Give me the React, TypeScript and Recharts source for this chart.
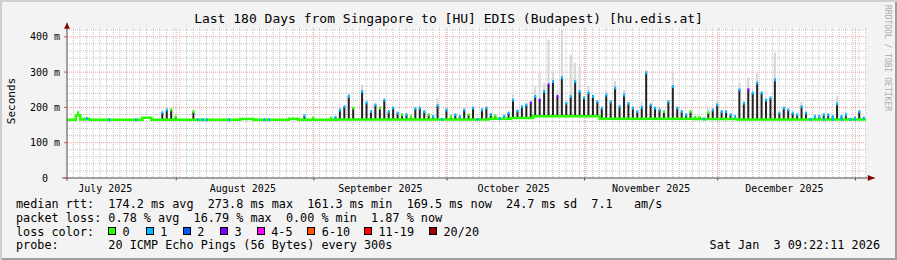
import React from 'react';
import { ComposedChart, Bar, Line, Scatter, XAxis, YAxis, CartesianGrid, ReferenceLine } from 'recharts';

const MONO = '"DejaVu Sans Mono", monospace';

// x = days since Mon Jul 7 2025 09:22 (180 day window)
const monthStarts = [24.61, 55.61, 85.61, 116.61, 146.61, 177.61];
const monthLabelDays = [8.61, 39.61, 70.61, 100.61, 131.61, 161.61];
const monthLabels = ['July 2025', 'August 2025', 'September 2025', 'October 2025', 'November 2025', 'December 2025'];
const yTicks = [0, 100, 200, 300, 400];

// median rtt in ms, as runs of [first day, value]
const medianRuns: [number, number][] = [
  [0, 165], [2, 178], [3, 166], [4, 168], [5, 165], [17, 171], [19, 165], [39, 167], [42, 165],
  [50, 168], [52, 165], [61, 166], [95, 168], [100, 170], [105, 175], [120, 168], [141, 167], [151, 166],
];

// dark smoke spikes: [day, top ms, loss class]
const spikes: [number, number, number][] = [
  [2, 185, 0], [21, 185, 1], [22, 193, 1], [23, 193, 0], [24, 173, 0], [28, 188, 0], [53, 176, 1], [55, 170, 0],
  [59, 170, 0], [60, 172, 1], [61, 193, 1], [62, 202, 1], [63, 231, 1], [64, 198, 0], [66, 245, 1], [67, 213, 1],
  [68, 188, 1], [69, 207, 1], [70, 198, 0], [71, 221, 1], [72, 188, 1], [73, 198, 1], [74, 184, 1], [75, 179, 0],
  [76, 179, 1], [77, 174, 0], [78, 196, 1], [79, 198, 1], [80, 188, 1], [81, 179, 0], [82, 174, 1], [83, 205, 1],
  [85, 193, 1], [86, 174, 0], [87, 179, 1], [88, 174, 1], [89, 193, 1], [90, 179, 0], [91, 198, 1], [93, 193, 1],
  [94, 198, 1], [95, 180, 1], [96, 176, 0], [98, 175, 1], [99, 184, 1], [100, 221, 1], [101, 190, 1], [102, 202, 1],
  [103, 207, 1], [104, 213, 3], [105, 231, 1], [106, 221, 3], [107, 245, 1], [108, 264, 3], [109, 273, 1], [110, 231, 3],
  [111, 284, 1], [112, 212, 1], [113, 231, 1], [114, 273, 1], [115, 245, 1], [116, 227, 1], [117, 241, 1], [118, 231, 1],
  [119, 216, 1], [120, 198, 1], [121, 235, 1], [122, 216, 1], [123, 255, 1], [124, 202, 1], [125, 235, 1], [126, 211, 1],
  [127, 198, 1], [128, 188, 1], [129, 200, 1], [130, 298, 1], [131, 207, 1], [132, 198, 1], [133, 193, 1], [134, 188, 0],
  [135, 216, 1], [136, 259, 1], [137, 198, 1], [138, 188, 1], [139, 179, 1], [140, 188, 0], [141, 172, 0], [142, 172, 0],
  [144, 185, 0], [145, 193, 1], [146, 207, 1], [147, 188, 1], [148, 188, 1], [149, 179, 1], [150, 174, 1], [151, 250, 1],
  [152, 212, 1], [153, 250, 3], [154, 241, 1], [155, 269, 1], [156, 241, 1], [157, 221, 1], [158, 227, 1], [159, 278, 1],
  [160, 184, 1], [161, 198, 1], [162, 193, 1], [163, 184, 1], [164, 179, 1], [165, 202, 1], [166, 184, 1], [168, 174, 1],
  [169, 174, 1], [170, 179, 1], [171, 179, 1], [172, 174, 1], [173, 210, 1], [174, 174, 1], [175, 179, 1], [177, 170, 1],
  [178, 188, 1], [179, 170, 1],
];

// light smoke tops: [day, ms]
const smoke: [number, number][] = [
  [23, 197], [63, 240], [66, 264], [83, 227], [100, 235], [105, 259], [106, 300], [107, 270], [108, 391], [109, 300],
  [110, 250], [111, 420], [113, 349], [114, 326], [115, 316], [117, 260], [121, 250], [123, 275], [125, 250], [129, 216],
  [130, 306], [136, 301], [144, 198], [146, 220], [151, 269], [153, 284], [155, 298], [159, 355], [165, 215], [173, 231],
];

// days where the median itself shows 1 lost ping
const blueBaseDays = [4, 9, 15, 29, 30, 31, 36, 44, 45, 84, 92, 97, 143, 167, 170, 172, 174, 176, 177];

const lossLabels = ['0', '1', '2', '3', '4-5', '6-10', '11-19', '20/20'];
const lossColors = ['#26ff00', '#00b8ff', '#0059ff', '#7e00ff', '#ff00ff', '#ff5500', '#ff0000', '#a10000'];
const legendBoxX = [108, 145.7, 182.7, 220, 256.7, 307.3, 364, 429];

const DAYS = 180;
const medianFor = (d: number) => {
  let v = medianRuns[0][1];
  for (const [s, m] of medianRuns) if (d >= s) v = m;
  return v;
};

const table = Array.from({ length: DAYS }, (_, d) => {
  const med = medianFor(d);
  const sp = spikes.find((s) => s[0] === d);
  const peak = sp ? Math.max(sp[1], med) : med;
  const sm = smoke.find((s) => s[0] === d);
  const top = sm ? Math.max(sm[1], peak) : peak;
  return { x: d + 0.5, base: med, dark: peak - med, light: top - peak };
});

const medLine = [
  ...Array.from({ length: DAYS }, (_, d) => ({ x: d, median: medianFor(d) })),
  { x: DAYS, median: medianFor(DAYS - 1) },
];

const markers = [
  ...blueBaseDays.map((d) => ({ x: d + 0.5, y: medianFor(d), c: lossColors[1] })),
  ...spikes.map(([d, p, l]) => ({ x: d + 0.5, y: p, c: lossColors[l] })),
];

const minorX = Array.from({ length: 120 }, (_, k) => 1.42 + k * 1.5).filter((v) => v < DAYS);
const minorY = Array.from({ length: 21 }, (_, k) => 20 * (k + 1)).filter((v) => v % 100 !== 0);
const majorY = [100, 200, 300, 400];

const AXIS = '#4a4a4a';
const ARROW = '#8b0000';

const XArrow = (p: any) => (
  <g>
    <line x1={p.x1} y1={p.y1} x2={p.x2} y2={p.y2} stroke={AXIS} strokeWidth={1} />
    <polygon points={`${p.x2 - 7},${p.y2 - 3} ${p.x2},${p.y2} ${p.x2 - 7},${p.y2 + 3}`} fill={ARROW} />
  </g>
);

const YArrow = (p: any) => (
  <g>
    <line x1={p.x1} y1={p.y1} x2={p.x2} y2={p.y2} stroke={AXIS} strokeWidth={1} />
    <polygon points={`${p.x2 - 3},${p.y2 + 6} ${p.x2},${p.y2} ${p.x2 + 3},${p.y2 + 6}`} fill={ARROW} />
  </g>
);

const YTick = (p: any) => {
  const v = p.payload.value;
  return (
    <text x={v === 0 ? 48 : 60} y={p.y + 3.5} textAnchor="end" fontFamily={MONO} fontSize={10} fill="#000">
      {v === 0 ? '0' : `${v} m`}
    </text>
  );
};

const XTick = (p: any) => {
  const i = monthLabelDays.indexOf(p.payload.value);
  return (
    <text x={p.x} y={191.5} textAnchor="middle" fontFamily={MONO} fontSize={10} fill="#000">
      {monthLabels[i]}
    </text>
  );
};

const Marker = (p: any) => <rect x={p.cx - 1} y={p.cy - 1.5} width={2} height={3} fill={p.payload.c} />;

const line = (top: number, text: string) => (
  <div style={{ position: 'absolute', left: 16, top, fontSize: 11.8, lineHeight: '14px', whiteSpace: 'pre' }}>{text}</div>
);

export default function App() {
  return (
    <div
      style={{
        position: 'absolute', left: 0, top: 0, width: 897, height: 260, background: '#f3f3f3',
        boxShadow: 'inset 2px 2px 0 #cfcfcf, inset -2px -2px 0 #9e9e9e', fontFamily: MONO, color: '#000', overflow: 'hidden',
      }}
    >
      <div style={{ position: 'absolute', left: 0, top: 11.3, width: 897, textAlign: 'center', fontSize: 13, lineHeight: '15px', whiteSpace: 'pre' }}>
        Last 180 Days from Singapore to [HU] EDIS (Budapest) [hu.edis.at]
      </div>
      <div style={{ position: 'absolute', left: 11, top: 101, fontSize: 11, lineHeight: '13px', whiteSpace: 'pre', transform: 'translate(-50%,-50%) rotate(-90deg)' }}>
        Seconds
      </div>
      <div style={{ position: 'absolute', left: 882.5, top: 5, fontSize: 8, lineHeight: '9px', writingMode: 'vertical-rl', color: '#ababab', whiteSpace: 'pre' }}>
        RRDTOOL / TOBI OETIKER
      </div>

      <div style={{ position: 'absolute', left: 0, top: 0 }}>
        <ComposedChart width={897} height={260} data={table} margin={{ top: 28, right: 31, bottom: 66, left: 0 }} barSize={2}>
          <CartesianGrid fill="#ffffff" stroke="#c4c4c4" strokeDasharray="1 1" verticalValues={minorX} horizontalValues={minorY} />
          <CartesianGrid stroke="#eea0a0" strokeDasharray="1 1" verticalValues={monthStarts} horizontalValues={majorY} />
          <XAxis
            dataKey="x" type="number" domain={[0, DAYS]} ticks={monthLabelDays} interval={0}
            tick={<XTick />} tickLine={false} axisLine={false} height={16} allowDataOverflow
          />
          <YAxis
            type="number" domain={[0, 425]} ticks={yTicks} interval={0} tick={<YTick />}
            tickSize={3} tickLine={{ stroke: '#de5050' }} axisLine={false} width={67} allowDataOverflow
          />
          <Bar dataKey="base" stackId="s" fill="transparent" isAnimationActive={false} />
          <Bar dataKey="dark" stackId="s" fill="#222222" isAnimationActive={false} />
          <Bar dataKey="light" stackId="s" fill="#d6d6d6" isAnimationActive={false} />
          <Line data={medLine} dataKey="median" type="stepAfter" stroke="#26ff00" strokeWidth={2.5} dot={false} isAnimationActive={false} />
          <Scatter data={markers} dataKey="y" shape={<Marker />} isAnimationActive={false} />
          {monthStarts.map((m) => (
            <ReferenceLine key={m} segment={[{ x: m, y: 0 }, { x: m, y: -7 }]} stroke={AXIS} ifOverflow="visible" />
          ))}
          <ReferenceLine segment={[{ x: -1.1, y: 0 }, { x: 182, y: 0 }]} ifOverflow="visible" shape={<XArrow />} />
          <ReferenceLine segment={[{ x: 0, y: -8 }, { x: 0, y: 440 }]} ifOverflow="visible" shape={<YArrow />} />
        </ComposedChart>
      </div>

      {line(196.9, 'median rtt:  174.2 ms avg  273.8 ms max  161.3 ms min  169.5 ms now  24.7 ms sd  7.1   am/s')}
      {line(210.7, 'packet loss: 0.78 % avg  16.79 % max  0.00 % min  1.87 % now')}
      {line(224.5, 'loss color:')}
      {line(238.3, 'probe:       20 ICMP Echo Pings (56 Bytes) every 300s')}
      <div style={{ position: 'absolute', right: 17, top: 238.3, fontSize: 11.8, lineHeight: '14px', whiteSpace: 'pre' }}>
        Sat Jan  3 09:22:11 2026
      </div>
      {lossLabels.map((l, i) => (
        <React.Fragment key={l}>
          <div style={{ position: 'absolute', left: legendBoxX[i], top: 227, width: 8, height: 8, boxSizing: 'border-box', border: '1px solid #000', background: lossColors[i] }} />
          <div style={{ position: 'absolute', left: legendBoxX[i] + 14.5, top: 224.5, fontSize: 11.8, lineHeight: '14px', whiteSpace: 'pre' }}>{l}</div>
        </React.Fragment>
      ))}
    </div>
  );
}
